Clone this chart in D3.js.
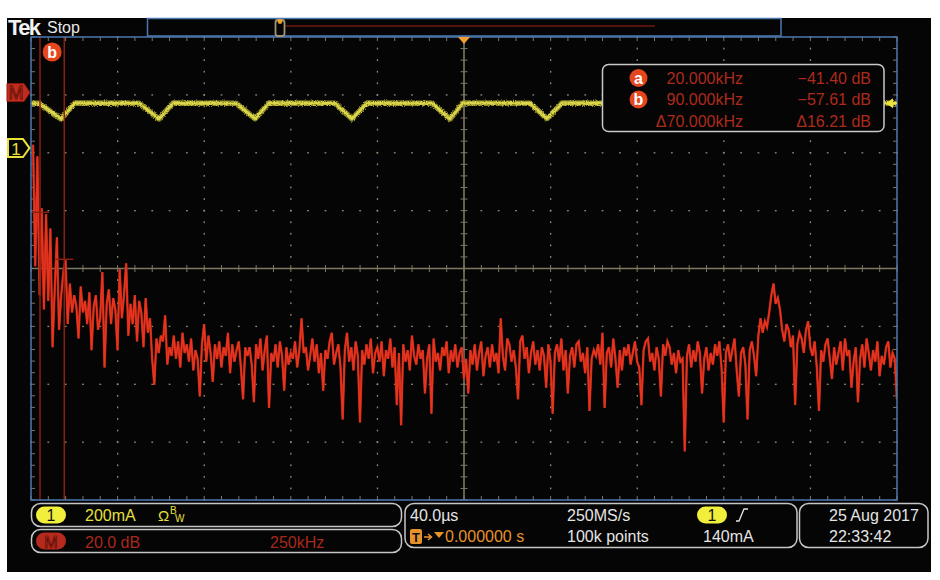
<!DOCTYPE html>
<html><head><meta charset="utf-8">
<script src="https://cdn.jsdelivr.net/npm/d3@7"></script>
<style>html,body{margin:0;padding:0;background:#fff;}svg{display:block;}text{font-family:"Liberation Sans",Arial,sans-serif;}</style>
</head><body><div id="chart"></div>
<script>
// ---------- data ----------
const timeRangeUs = [-200, 200];        // 40.0 µs/div, 10 div
const fftSpanKHz = [-6, 2494];          // 250 kHz/div, 10 div (as displayed)
const dbRange = [19.2, -140.8];         // 20.0 dB/div, 8 div (M reference at 0 dB)
const ch1RangeMa = [384, -1216];        // 200 mA/div, 8 div (ch1 ground marker)

// Channel 1 (yellow) vertices: time (µs) and current (mA)
const ch1TimesUs = [-200, -196.3, -186.1, -179.7, -150.1, -140.9, -134.4, -105.3, -96.5, -90.1,
  -59.6, -51.7, -44.8, -14.8, -6.5, -0.5, 30.5, 38.3, 45.3, 75.3, 83.1, 89.6, 120.1, 127.9, 134.4,
  164.9, 172.7, 179.2, 200];
const ch1CurrentMa = [155, 155, 101, 156, 155, 101, 156, 155, 102, 156,
  155, 101, 156, 155, 101, 156, 155, 102, 156, 155, 102, 156, 155, 102, 156,
  155, 102, 156, 155];

// Math M (red) FFT magnitude, dB, one value per bin
const fftStartKHz = 0;
const fftBinKHz = 6.25;
const fftDb = [
 -18,-60,-22,-70,-40,-75,-42,-72,-47,-88,-68,-50,-82,-70,-62,-58,-80,-66,-76,-70,
 -74,-85,-67,-76,-72,-80,-69,-89,-74,-70,-82,-78,-62,-95,-73,-68,-80,-71,-75,-89,
 -61,-78,-70,-59,-84,-73,-80,-70,-86,-72,-76,-88,-71,-83,-78,-92,-101,-85,-90,-84,
 -86,-77,-94,-88,-91,-84,-92,-86,-95,-83,-90,-87,-93,-85,-96,-89,-92,-105,-87,-80,
 -93,-84,-90,-100,-87,-92,-86,-95,-88,-91,-83,-97,-87,-93,-89,-86,-95,-106,-88,-91,
 -88,-94,-107,-87,-92,-85,-96,-89,-84,-109,-90,-93,-87,-95,-86,-91,-103,-88,-94,-90,
 -92,-86,-95,-89,-78,-90,-88,-96,-91,-85,-93,-87,-97,-90,-103,-89,-92,-86,-83,-94,
 -90,-87,-95,-113,-89,-83,-93,-88,-96,-86,-91,-114,-89,-94,-87,-92,-85,-97,-90,-88,
 -93,-86,-98,-89,-92,-85,-95,-88,-108,-90,-115,-87,-93,-89,-96,-84,-91,-94,-87,-92,
 -89,-104,-92,-87,-111,-85,-93,-90,-96,-88,-91,-86,-97,-89,-93,-87,-95,-90,-88,-99,
 -92,-104,-89,-94,-87,-96,-90,-86,-98,-91,-88,-95,-87,-93,-90,-97,-78,-91,-96,-85,
 -87,-93,-89,-95,-106,-86,-84,-92,-88,-97,-90,-86,-94,-89,-96,-88,-91,-102,-87,-93,
 -111,-90,-87,-93,-85,-96,-89,-104,-91,-88,-95,-87,-86,-93,-90,-97,-88,-110,-92,-89,
 -91,-87,-94,-83,-109,-90,-88,-95,-85,-92,-102,-89,-96,-88,-91,-87,-94,-90,-86,-93,
 -95,-108,-89,-86,-85,-93,-90,-96,-88,-92,-105,-87,-91,-86,-88,-94,-90,-97,-89,-93,
 -92,-124,-91,-87,-95,-89,-93,-86,-90,-104,-92,-88,-96,-90,-94,-87,-91,-86,-95,-114,
 -90,-87,-93,-89,-85,-96,-105,-90,-88,-94,-113,-89,-86,-91,-98,-84,-78,-83,-79,-81,
 -76,-70,-66,-73,-71,-75,-82,-86,-80,-82,-88,-84,-108,-87,-83,-85,-90,-82,-79,-88,
 -91,-86,-95,-110,-89,-93,-87,-85,-92,-99,-88,-94,-90,-86,-96,-85,-91,-89,-102,-93,
 -88,-107,-92,-87,-95,-85,-90,-96,-89,-93,-86,-98,-91,-94,-88,-86,-95,-90,-92,-106,-85
];

// Cursors
const cursorNames = ['a', 'b'];
const cursorFreqKHz = [20, 90];
const cursorDb = [-41.40, -57.61];
const readoutFreq = ['20.000kHz', '90.000kHz', 'Δ70.000kHz'];
const readoutDb = ['\u221241.40 dB', '\u221257.61 dB', 'Δ16.21 dB'];

// Status bar texts
const ch1Scale = '200mA';
const mathScale = '20.0 dB';
const mathSpan = '250kHz';
const horizScale = '40.0\u00b5s';
const sampleRate = '250MS/s';
const recordLen = '100k points';
const trigPos = '0.000000 s';
const trigLevel = '140mA';
const dateText = '25 Aug 2017';
const timeText = '22:33:42';

// ---------- drawing ----------
const W = 940, H = 580;
const L = 31, R = 897, T = 37, B = 500;
const svg = d3.select('#chart').append('svg').attr('width', W).attr('height', H);
const defs = svg.append('defs');
const fz = defs.append('filter').attr('id', 'fuzz').attr('x', '-5%').attr('y', '-50%').attr('width', '110%').attr('height', '200%');
fz.append('feTurbulence').attr('type', 'fractalNoise').attr('baseFrequency', 0.9).attr('numOctaves', 2).attr('seed', 3).attr('result', 'n');
fz.append('feDisplacementMap').attr('in', 'SourceGraphic').attr('in2', 'n').attr('scale', 3.5).attr('xChannelSelector', 'R').attr('yChannelSelector', 'G');

svg.append('rect').attr('width', W).attr('height', H).attr('fill', '#fff');
svg.append('rect').attr('x', 7).attr('y', 18).attr('width', 924).attr('height', 554).attr('fill', '#040504');

const xT = d3.scaleLinear().domain(timeRangeUs).range([L, R]);
const xF = d3.scaleLinear().domain(fftSpanKHz).range([L, R]);
const yDb = d3.scaleLinear().domain(dbRange).range([T, B]);
const yI = d3.scaleLinear().domain(ch1RangeMa).range([T, B]);

// graticule
const majX = d3.range(timeRangeUs[0], timeRangeUs[1] + 0.01, 40).map(xT);
const minX = d3.range(timeRangeUs[0], timeRangeUs[1] + 0.01, 8).map(xT);
const dbMaj = d3.range(0, 9).map(k => dbRange[0] - 20 * k);
const dbMin = d3.range(0, 41).map(k => dbRange[0] - 4 * k);
const majY = dbMaj.map(yDb), minY = dbMin.map(yDb);
const xc = xT(0), yc = yDb(dbRange[0] - 80);
const grid = svg.append('g');
const dotCol = '#938c6e';
majX.slice(1, -1).forEach(x => {
  if (Math.abs(x - xc) < 1) return;
  minY.forEach(y => grid.append('rect').attr('x', x - 0.6).attr('y', y - 0.9).attr('width', 1.3).attr('height', 1.8).attr('fill', dotCol));
});
majY.slice(1, -1).forEach(y => {
  if (Math.abs(y - yc) < 1) return;
  minX.forEach(x => grid.append('rect').attr('x', x - 0.9).attr('y', y - 0.6).attr('width', 1.8).attr('height', 1.3).attr('fill', dotCol));
});
const cl = '#7d7862';
grid.append('line').attr('x1', L).attr('x2', R).attr('y1', yc).attr('y2', yc).attr('stroke', cl).attr('stroke-width', 1.6);
grid.append('line').attr('x1', xc).attr('x2', xc).attr('y1', T).attr('y2', B).attr('stroke', cl).attr('stroke-width', 1.6);
minX.forEach(x => {
  grid.append('line').attr('x1', x).attr('x2', x).attr('y1', yc - 3.5).attr('y2', yc + 3.5).attr('stroke', cl).attr('stroke-width', 1);
  grid.append('line').attr('x1', x).attr('x2', x).attr('y1', T).attr('y2', T + 4).attr('stroke', cl).attr('stroke-width', 1);
  grid.append('line').attr('x1', x).attr('x2', x).attr('y1', B - 4).attr('y2', B).attr('stroke', cl).attr('stroke-width', 1);
});
minY.forEach(y => {
  grid.append('line').attr('y1', y).attr('y2', y).attr('x1', xc - 3.5).attr('x2', xc + 3.5).attr('stroke', cl).attr('stroke-width', 1);
  grid.append('line').attr('y1', y).attr('y2', y).attr('x1', L).attr('x2', L + 4).attr('stroke', cl).attr('stroke-width', 1);
  grid.append('line').attr('y1', y).attr('y2', y).attr('x1', R - 4).attr('x2', R).attr('stroke', cl).attr('stroke-width', 1);
});

// clip
svg.append('clipPath').attr('id', 'plotClip').append('rect').attr('x', L).attr('y', T).attr('width', R - L).attr('height', B - T);
const traces = svg.append('g').attr('clip-path', 'url(#plotClip)');

// yellow channel 1
const ch1 = ch1TimesUs.map((t, i) => [t, ch1CurrentMa[i]]);
const lineCh1 = d3.line().x(d => xT(d[0])).y(d => yI(d[1]));
const yg = traces.append('g').attr('filter', 'url(#fuzz)');
yg.append('path').attr('d', lineCh1(ch1)).attr('fill', 'none').attr('stroke', '#8c8828').attr('stroke-width', 5.5).attr('stroke-linejoin', 'round');
yg.append('path').attr('d', lineCh1(ch1)).attr('fill', 'none').attr('stroke', '#dcd64c').attr('stroke-width', 2.8).attr('stroke-linejoin', 'round');

// red FFT
const lineFft = d3.line().x((d, i) => xF(fftStartKHz + i * fftBinKHz)).y(d => yDb(d));
traces.append('path').attr('d', lineFft(fftDb)).attr('fill', 'none').attr('stroke', '#b42816').attr('stroke-width', 2.4).attr('stroke-linejoin', 'miter');
traces.append('path').attr('d', lineFft(fftDb)).attr('fill', 'none').attr('stroke', '#e8341f').attr('stroke-width', 1.5).attr('stroke-linejoin', 'miter');

// cursors
const curCol = '#8e1e12';
cursorFreqKHz.forEach((f, i) => {
  const x = xF(f);
  svg.append('line').attr('x1', x).attr('x2', x).attr('y1', T).attr('y2', B).attr('stroke', curCol).attr('stroke-width', 1.5);
  svg.append('line').attr('x1', Math.max(L, x - 9)).attr('x2', x + 9).attr('y1', yDb(cursorDb[i])).attr('y2', yDb(cursorDb[i])).attr('stroke', curCol).attr('stroke-width', 1.5);
});
const bx = (xF(cursorFreqKHz[0]) + xF(cursorFreqKHz[1])) / 2;
svg.append('circle').attr('cx', bx).attr('cy', 52).attr('r', 9.5).attr('fill', '#e5461e');
svg.append('text').attr('x', bx).attr('y', 57.5).attr('text-anchor', 'middle').attr('font-size', 16).attr('font-weight', 'bold').attr('fill', '#fff').text('b');

// frame
svg.append('rect').attr('x', L).attr('y', T).attr('width', R - L).attr('height', B - T).attr('fill', 'none').attr('stroke', '#4c78b0').attr('stroke-width', 1.5);

// trigger position marker
svg.append('path').attr('d', `M${xc - 6},${T} L${xc + 6},${T} L${xc},${T + 7} Z`).attr('fill', '#f0a032');

// top bar
svg.append('text').attr('x', 8).attr('y', 35).attr('font-family', '"Liberation Serif",serif').attr('font-weight', 'bold').attr('font-size', 22).attr('letter-spacing', -1.6).attr('fill', '#f2f2f2').text('Tek');
svg.append('text').attr('x', 47).attr('y', 33).attr('font-size', 16).attr('fill', '#e8e8e8').text('Stop');
svg.append('rect').attr('x', 147.5).attr('y', 18.5).attr('width', 633.5).attr('height', 17.5).attr('fill', '#050505').attr('stroke', '#4c78b0').attr('stroke-width', 1.5);
svg.append('line').attr('x1', 285).attr('x2', 655).attr('y1', 26).attr('y2', 26).attr('stroke', '#a8201a').attr('stroke-width', 1.2);
svg.append('rect').attr('x', 275.5).attr('y', 20).attr('width', 9).attr('height', 16).attr('rx', 2.5).attr('fill', 'none').attr('stroke', '#9f9475').attr('stroke-width', 1.8);
svg.append('circle').attr('cx', 280).attr('cy', 21.5).attr('r', 2.4).attr('fill', '#f0a032');

// left markers
const mY = yDb(0);
svg.append('path').attr('d', `M7,${mY - 9} L24,${mY - 9} L30,${mY} L24,${mY + 9} L7,${mY + 9} Z`).attr('fill', '#c22c1e').attr('stroke', '#8a1a10').attr('stroke-width', 1);
svg.append('text').attr('x', 16).attr('y', mY + 6.5).attr('text-anchor', 'middle').attr('font-size', 18).attr('fill', '#cf3a28').attr('stroke', '#5a0c06').attr('stroke-width', 0.8).text('M');
const gY = yI(0);
svg.append('path').attr('d', `M8,${gY - 9} L23,${gY - 9} L29.5,${gY} L23,${gY + 9} L8,${gY + 9} Z`).attr('fill', '#050505').attr('stroke', '#e8e23a').attr('stroke-width', 2);
svg.append('text').attr('x', 16).attr('y', gY + 6.5).attr('text-anchor', 'middle').attr('font-size', 17).attr('fill', '#e8e23a').text('1');

// right yellow level arrow
const aY = yI(ch1CurrentMa[ch1CurrentMa.length - 1]);
svg.append('path').attr('d', `M886,${aY} L893,${aY - 5} L893,${aY + 5} Z`).attr('fill', '#ece63c');
svg.append('line').attr('x1', 892).attr('x2', 897).attr('y1', aY).attr('y2', aY).attr('stroke', '#ece63c').attr('stroke-width', 2);

// cursor readout box
svg.append('rect').attr('x', 602.5).attr('y', 64.5).attr('width', 281.5).attr('height', 67).attr('rx', 6).attr('fill', '#050505').attr('stroke', '#c9c9c9').attr('stroke-width', 1.5);
const rowY = [83.5, 105, 127];
const rdCol = '#ad2a1c';
cursorNames.forEach((n, i) => {
  svg.append('circle').attr('cx', 638.5).attr('cy', rowY[i] - 5.5).attr('r', 9).attr('fill', '#e5461e');
  svg.append('text').attr('x', 638.5).attr('y', rowY[i]).attr('text-anchor', 'middle').attr('font-size', 16).attr('font-weight', 'bold').attr('fill', '#fff').text(n);
});
readoutFreq.forEach((t, i) => svg.append('text').attr('x', 743).attr('y', rowY[i]).attr('text-anchor', 'end').attr('font-size', 16).attr('fill', rdCol).text(t));
readoutDb.forEach((t, i) => svg.append('text').attr('x', 871).attr('y', rowY[i]).attr('text-anchor', 'end').attr('font-size', 16).attr('fill', rdCol).text(t));

// status bar
const boxStroke = '#c6c6c6';
function box(x, y, w, h) {
  svg.append('rect').attr('x', x).attr('y', y).attr('width', w).attr('height', h).attr('rx', 9).attr('fill', 'none').attr('stroke', boxStroke).attr('stroke-width', 1.5);
}
box(31.5, 503.5, 370, 23);
box(31.5, 529.5, 370, 23);
box(405, 503.5, 392, 44);
box(799.5, 503.5, 128.5, 44);

function pill(x, y, fill) {
  svg.append('rect').attr('x', x).attr('y', y).attr('width', 30).attr('height', 17).attr('rx', 8.5).attr('fill', fill);
}
pill(36, 506.5, '#f2ee3c');
svg.append('text').attr('x', 51).attr('y', 521).attr('text-anchor', 'middle').attr('font-size', 16).attr('fill', '#111').text('1');
svg.append('text').attr('x', 85).attr('y', 521).attr('font-size', 16).attr('fill', '#e6e043').text(ch1Scale);
svg.append('text').attr('x', 158).attr('y', 521).attr('font-size', 15).attr('fill', '#e6e043').text('Ω');
svg.append('text').attr('x', 170).attr('y', 514).attr('font-size', 10).attr('fill', '#e6e043').text('B');
svg.append('text').attr('x', 175).attr('y', 522).attr('font-size', 10).attr('fill', '#e6e043').text('W');

pill(36, 532.5, '#b52a1c');
svg.append('text').attr('x', 51).attr('y', 547.5).attr('text-anchor', 'middle').attr('font-size', 16).attr('fill', '#c83626').attr('stroke', '#4a0805').attr('stroke-width', 0.7).text('M');
svg.append('text').attr('x', 85).attr('y', 548).attr('font-size', 16).attr('fill', '#a8281c').text(mathScale);
svg.append('text').attr('x', 270).attr('y', 548).attr('font-size', 16).attr('fill', '#a8281c').text(mathSpan);

const wt = '#e4e4e4';
svg.append('text').attr('x', 410).attr('y', 521).attr('font-size', 16).attr('fill', wt).text(horizScale);
svg.append('text').attr('x', 567).attr('y', 521).attr('font-size', 16).attr('fill', wt).text(sampleRate);
svg.append('text').attr('x', 567).attr('y', 542).attr('font-size', 16).attr('fill', wt).text(recordLen);
svg.append('text').attr('x', 703).attr('y', 542).attr('font-size', 16).attr('fill', wt).text(trigLevel);
pill(697, 506.5, '#f2ee3c');
svg.append('text').attr('x', 712).attr('y', 521).attr('text-anchor', 'middle').attr('font-size', 16).attr('fill', '#111').text('1');
svg.append('path').attr('d', 'M736,521 L739,521 L744,509 L748,509').attr('fill', 'none').attr('stroke', wt).attr('stroke-width', 1.3);

const org = '#e8922c';
svg.append('rect').attr('x', 410).attr('y', 529).attr('width', 12).attr('height', 15).attr('rx', 2).attr('fill', org);
svg.append('text').attr('x', 416).attr('y', 542).attr('text-anchor', 'middle').attr('font-size', 13).attr('font-weight', 'bold').attr('fill', '#111').text('T');
svg.append('path').attr('d', 'M424,537 L431,537 M428,534 L431.5,537 L428,540').attr('fill', 'none').attr('stroke', org).attr('stroke-width', 1.5);
svg.append('path').attr('d', 'M434,532 L444,532 L439,538 Z').attr('fill', org);
svg.append('text').attr('x', 445).attr('y', 542).attr('font-size', 16).attr('fill', org).text(trigPos);

svg.append('text').attr('x', 829).attr('y', 521).attr('font-size', 16).attr('fill', wt).text(dateText);
svg.append('text').attr('x', 829).attr('y', 542).attr('font-size', 16).attr('fill', wt).text(timeText);
</script></body></html>
